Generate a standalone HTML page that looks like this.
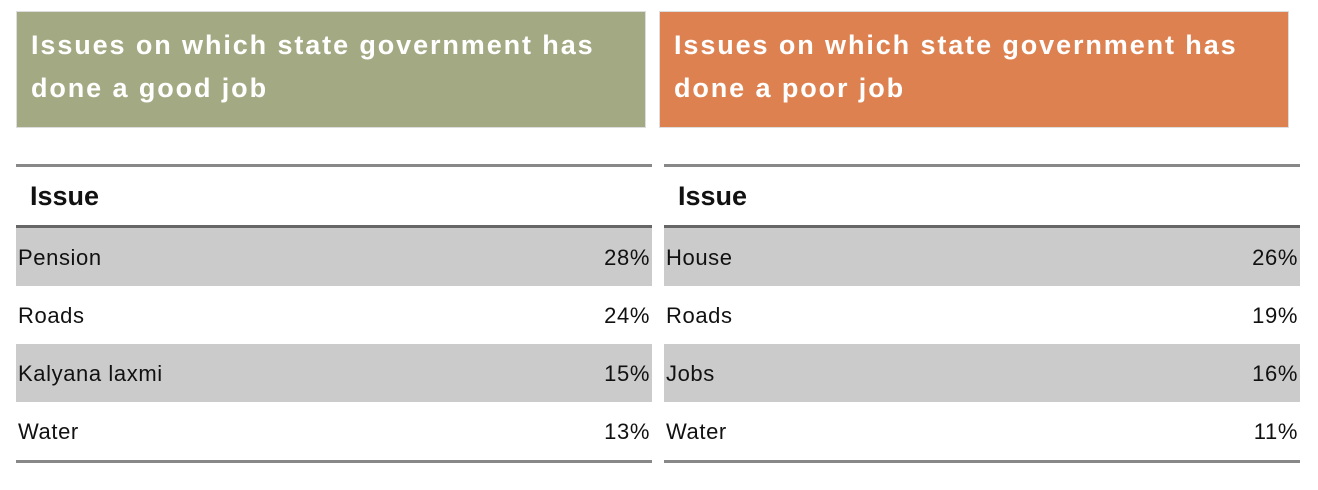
<!DOCTYPE html>
<html><head><style>
body{margin:0;width:1318px;height:490px;background:#fff;font-family:"Liberation Sans",sans-serif;position:relative;overflow:hidden}
.box{position:absolute;top:11px;height:117px;width:630px;color:#fff;font-weight:bold;font-size:27px;line-height:43px;padding:0 0 0 14px;box-sizing:border-box;padding-top:12px;border:1px solid #ddd;letter-spacing:1.9px}
.t{position:absolute;top:164px;border-top:3px solid #888;}
.h{height:58px;font-weight:bold;font-size:27px;line-height:58px;padding-left:14px;border-bottom:3px solid #666;color:#111}
.r{height:58px;font-size:22px;line-height:60px;display:flex;justify-content:space-between;padding:0 2px;color:#111;letter-spacing:0.6px}
.g{background:#cbcbcb}
.e{border-bottom:3px solid #888}
</style></head><body>
<div class="box" style="left:16px;background:#a3aa83">Issues on which state government has<br>done a good job</div>
<div class="box" style="left:659px;background:#dd8150">Issues on which state government has<br>done a poor job</div>
<div class="t" style="left:16px;width:636px">
<div class="h">Issue</div>
<div class="r g"><span>Pension</span><span>28%</span></div>
<div class="r"><span>Roads</span><span>24%</span></div>
<div class="r g"><span>Kalyana laxmi</span><span>15%</span></div>
<div class="r e"><span>Water</span><span>13%</span></div>
</div>
<div class="t" style="left:664px;width:636px">
<div class="h">Issue</div>
<div class="r g"><span>House</span><span>26%</span></div>
<div class="r"><span>Roads</span><span>19%</span></div>
<div class="r g"><span>Jobs</span><span>16%</span></div>
<div class="r e"><span>Water</span><span>11%</span></div>
</div>
</body></html>
